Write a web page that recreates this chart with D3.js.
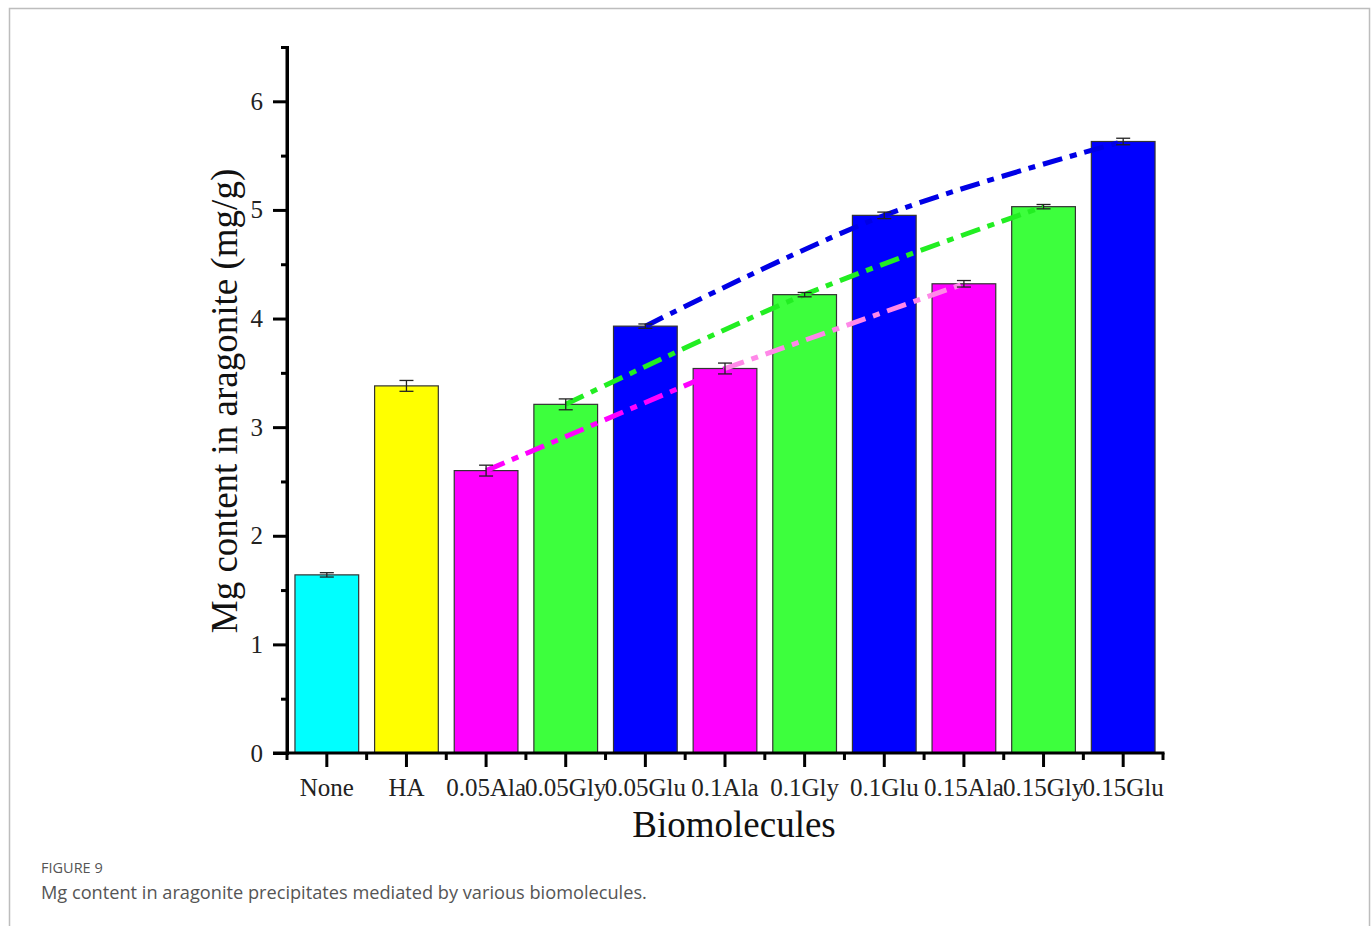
<!DOCTYPE html>
<html>
<head>
<meta charset="utf-8">
<script src="https://cdn.jsdelivr.net/npm/d3@7"></script>
<style>
  body { margin: 0; background: #fff; }
  svg { display: block; }
</style>
</head>
<body>
<svg width="1372" height="926"></svg>
<script>
// data
var categories = ["None", "HA", "0.05Ala", "0.05Gly", "0.05Glu", "0.1Ala", "0.1Gly", "0.1Glu", "0.15Ala", "0.15Gly", "0.15Glu"];
var mgValues = [1.64, 3.38, 2.60, 3.21, 3.93, 3.54, 4.22, 4.95, 4.32, 5.03, 5.63];
var mgErrors = [0.02, 0.05, 0.05, 0.05, 0.02, 0.05, 0.02, 0.03, 0.03, 0.02, 0.03];
var barColors = ["#00ffff", "#ffff00", "#ff00ff", "#3dff3d", "#0000ff", "#ff00ff", "#3dff3d", "#0000ff", "#ff00ff", "#3dff3d", "#0000ff"];
var yTicks = [0, 1, 2, 3, 4, 5, 6];
var yMinorTicks = [0.5, 1.5, 2.5, 3.5, 4.5, 5.5, 6.5];

// trend lines through the series of each biomolecule
var alaTrend = ["0.05Ala", "0.1Ala", "0.15Ala"];
var glyTrend = ["0.05Gly", "0.1Gly", "0.15Gly"];
var gluTrend = ["0.05Glu", "0.1Glu", "0.15Glu"];

var svg = d3.select("svg");

var padding = { top: 47, right: 209, bottom: 173, left: 287 };
var width = 1372, height = 926;

// frame around the figure
svg.append("rect")
   .attr("x", 9.5).attr("y", 8.5)
   .attr("width", 1360).attr("height", 930)
   .attr("fill", "none")
   .attr("stroke", "#bdbdbd")
   .attr("stroke-width", 1.5);

var xScale = d3.scaleBand()
               .domain(categories)
               .range([padding.left, width - padding.right])
               .paddingInner(0.2)
               .paddingOuter(0.1);

var yScale = d3.scaleLinear()
               .domain([0, 6.5])
               .range([height - padding.bottom, padding.top]);

var valueOf = {};
categories.forEach((c, i) => valueOf[c] = mgValues[i]);

// bars
svg.selectAll("rect.bar")
  .data(categories)
  .enter()
  .append("rect")
    .attr("class", "bar")
    .attr("x", d => xScale(d))
    .attr("y", d => yScale(valueOf[d]))
    .attr("width", xScale.bandwidth())
    .attr("height", d => yScale(0) - yScale(valueOf[d]))
    .attr("fill", (d, i) => barColors[i])
    .attr("stroke", "#333")
    .attr("stroke-width", 1.2);

// dash-dot trend curves
var line = d3.line()
             .x(d => xScale(d) + xScale.bandwidth() / 2)
             .y(d => yScale(valueOf[d]))
             .curve(d3.curveCatmullRom);

function trend(points, color) {
  svg.append("path")
     .attr("d", line(points))
     .attr("fill", "none")
     .attr("stroke", color)
     .attr("stroke-width", 5)
     .attr("stroke-dasharray", "20,8,7,8");
}
trend(alaTrend.slice(0, 2), "#ff00ff");
trend(alaTrend.slice(1), "#ff88e8");
trend(glyTrend, "#22ee22");
trend(gluTrend, "#0000e6");

// error bars
var errs = svg.append("g").attr("stroke", "#222").attr("stroke-width", 1.3);
categories.forEach((c, i) => {
  var cx = xScale(c) + xScale.bandwidth() / 2;
  var hi = yScale(mgValues[i] + mgErrors[i]);
  var lo = yScale(mgValues[i] - mgErrors[i]);
  errs.append("line").attr("x1", cx).attr("x2", cx).attr("y1", hi).attr("y2", lo);
  errs.append("line").attr("x1", cx - 7).attr("x2", cx + 7).attr("y1", hi).attr("y2", hi);
  errs.append("line").attr("x1", cx - 7).attr("x2", cx + 7).attr("y1", lo).attr("y2", lo);
});

// axes
var yAxis = svg.append("g")
   .attr("transform", "translate(" + padding.left + ",0)")
   .call(d3.axisLeft(yScale).tickValues(yTicks).tickSize(14).tickPadding(10).tickFormat(d3.format("d")));

svg.append("g")
   .attr("transform", "translate(" + padding.left + ",0)")
   .call(d3.axisLeft(yScale).tickValues(yMinorTicks).tickSize(6).tickFormat(""));

var xAxis = svg.append("g")
   .attr("transform", "translate(0," + yScale(0) + ")")
   .call(d3.axisBottom(xScale).tickSize(14).tickPadding(11));

var edges = categories.map(c => xScale(c) - xScale.step() * 0.1).concat([width - padding.right]);
svg.append("g")
   .attr("transform", "translate(0," + yScale(0) + ")")
   .selectAll("line")
   .data(edges)
   .enter()
   .append("line")
     .attr("x1", d => d).attr("x2", d => d)
     .attr("y1", 0).attr("y2", 7)
     .attr("stroke", "#000").attr("stroke-width", 3);

svg.selectAll(".domain").attr("stroke-width", 3).attr("stroke", "#000");
svg.selectAll(".tick line").attr("stroke-width", 3).attr("stroke", "#000");
svg.selectAll(".tick text")
   .attr("font-family", "Liberation Serif, Times New Roman, serif")
   .attr("font-size", 25)
   .attr("fill", "#222");
yAxis.select(".domain").attr("d", "M0," + (yScale(0) + 1.5) + "V" + yScale(6.5));
xAxis.select(".domain").attr("d", "M" + (padding.left - 14) + ",0H" + (width - padding.right + 1.5));

// axis titles
svg.append("text")
   .attr("transform", "translate(237," + (yScale(3.25) + 1) + ") rotate(-90)")
   .attr("text-anchor", "middle")
   .attr("font-family", "Liberation Serif, Times New Roman, serif")
   .attr("font-size", 37)
   .attr("fill", "#111")
   .text("Mg content in aragonite (mg/g)");

svg.append("text")
   .attr("x", (padding.left + width - padding.right) / 2 + 9)
   .attr("y", 837)
   .attr("text-anchor", "middle")
   .attr("font-family", "Liberation Serif, Times New Roman, serif")
   .attr("font-size", 37)
   .attr("fill", "#111")
   .text("Biomolecules");

// caption
svg.append("text")
   .attr("x", 41).attr("y", 873)
   .attr("font-family", "Open Sans, sans-serif")
   .attr("font-size", 14.5)
   .attr("fill", "#555")
   .text("FIGURE 9");

svg.append("text")
   .attr("x", 41).attr("y", 899)
   .attr("font-family", "Open Sans, sans-serif")
   .attr("font-size", 18.2)
   .attr("fill", "#555")
   .text("Mg content in aragonite precipitates mediated by various biomolecules.");
</script>
</body>
</html>
